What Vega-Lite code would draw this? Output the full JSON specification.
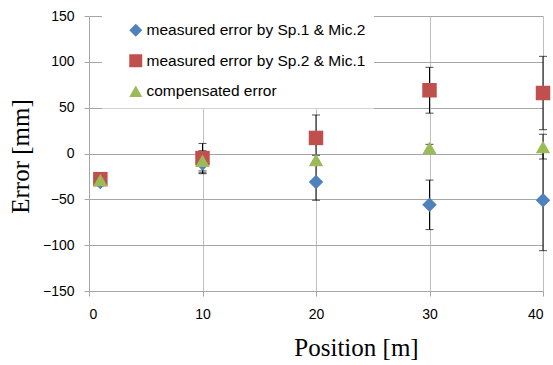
{
  "$schema": "https://vega.github.io/schema/vega-lite/v6.json",
  "width": 454,
  "height": 275,
  "autosize": "none",
  "padding": {"left": 89, "top": 16, "right": 10, "bottom": 74},
  "background": "white",
  "data": {
    "values": [
      {"pos": 1, "series": "measured error by Sp.1 & Mic.2", "value": -31, "lo": -34, "hi": -28},
      {"pos": 10, "series": "measured error by Sp.1 & Mic.2", "value": -11, "lo": -22, "hi": 0},
      {"pos": 20, "series": "measured error by Sp.1 & Mic.2", "value": -31, "lo": -51, "hi": -11},
      {"pos": 30, "series": "measured error by Sp.1 & Mic.2", "value": -56, "lo": -83, "hi": -29},
      {"pos": 40, "series": "measured error by Sp.1 & Mic.2", "value": -51, "lo": -106, "hi": 4},
      {"pos": 1, "series": "measured error by Sp.2 & Mic.1", "value": -28, "lo": -31, "hi": -25},
      {"pos": 10, "series": "measured error by Sp.2 & Mic.1", "value": -5, "lo": -21, "hi": 11},
      {"pos": 20, "series": "measured error by Sp.2 & Mic.1", "value": 17, "lo": -8, "hi": 42},
      {"pos": 30, "series": "measured error by Sp.2 & Mic.1", "value": 69, "lo": 44, "hi": 94},
      {"pos": 40, "series": "measured error by Sp.2 & Mic.1", "value": 66, "lo": 26, "hi": 106},
      {"pos": 1, "series": "compensated error", "value": -29, "lo": -32, "hi": -26},
      {"pos": 10, "series": "compensated error", "value": -8, "lo": -19, "hi": 3},
      {"pos": 20, "series": "compensated error", "value": -7, "lo": -12, "hi": -2},
      {"pos": 30, "series": "compensated error", "value": 6, "lo": 2, "hi": 10},
      {"pos": 40, "series": "compensated error", "value": 7, "lo": -6, "hi": 21}
    ]
  },
  "encoding": {
    "x": {
      "field": "pos", "type": "quantitative",
      "scale": {"domain": [0, 40], "nice": false, "zero": false},
      "axis": {"values": [0, 10, 20, 30, 40], "title": "Position [m]"}
    }
  },
  "layer": [
    {
      "mark": {"type": "rule", "color": "black", "strokeWidth": 1},
      "encoding": {
        "y": {"field": "lo", "type": "quantitative", "scale": {"domain": [-150, 150], "nice": false}, "axis": {"values": [-150, -100, -50, 0, 50, 100, 150], "title": "Error [mm]"}},
        "y2": {"field": "hi"}
      }
    },
    {
      "mark": {"type": "tick", "orient": "horizontal", "color": "black", "size": 8, "thickness": 1},
      "encoding": {
        "y": {"field": "lo", "type": "quantitative", "scale": {"domain": [-150, 150], "nice": false}, "axis": {"values": [-150, -100, -50, 0, 50, 100, 150], "title": "Error [mm]"}}
      }
    },
    {
      "mark": {"type": "tick", "orient": "horizontal", "color": "black", "size": 8, "thickness": 1},
      "encoding": {
        "y": {"field": "hi", "type": "quantitative", "scale": {"domain": [-150, 150], "nice": false}, "axis": {"values": [-150, -100, -50, 0, 50, 100, 150], "title": "Error [mm]"}}
      }
    },
    {
      "mark": {"type": "point", "filled": true, "opacity": 1, "size": 210},
      "encoding": {
        "y": {"field": "value", "type": "quantitative", "scale": {"domain": [-150, 150], "nice": false}, "axis": {"values": [-150, -100, -50, 0, 50, 100, 150], "title": "Error [mm]"}},
        "color": {
          "field": "series", "type": "nominal",
          "scale": {"domain": ["measured error by Sp.1 & Mic.2", "measured error by Sp.2 & Mic.1", "compensated error"], "range": ["#4f81bd", "#c0504d", "#9bbb59"]},
          "legend": {"title": null}
        },
        "shape": {
          "field": "series", "type": "nominal",
          "scale": {"domain": ["measured error by Sp.1 & Mic.2", "measured error by Sp.2 & Mic.1", "compensated error"], "range": ["diamond", "square", "triangle-up"]},
          "legend": {"title": null}
        }
      }
    }
  ],
  "config": {
    "view": {"stroke": null},
    "axis": {
      "labelFont": "Liberation Sans",
      "labelFontSize": 14,
      "labelColor": "#000000",
      "titleFont": "Liberation Serif",
      "titleFontSize": 25,
      "titleFontWeight": "normal",
      "titleColor": "#000000",
      "domainColor": "#a6a6a6",
      "tickColor": "#a6a6a6",
      "tickSize": 5,
      "grid": true,
      "gridOpacity": 1
    },
    "axisX": {
      "gridColor": "#bfbfbf",
      "labelPadding": 11,
      "titleX": 267,
      "titleY": 64,
      "titleAlign": "center",
      "titleBaseline": "alphabetic",
      "titleAnchor": null
    },
    "axisY": {
      "gridColor": "#a6a6a6",
      "labelPadding": 10,
      "titleX": -61,
      "titleY": 140,
      "titleAlign": "center",
      "titleBaseline": "alphabetic",
      "titleAngle": 270,
      "titleAnchor": null
    },
    "legend": {
      "orient": "none",
      "legendX": 13,
      "legendY": -1.5,
      "fillColor": "white",
      "strokeColor": null,
      "padding": 8,
      "symbolOffset": 18,
      "symbolSize": 169,
      "symbolStrokeWidth": 0,
      "labelFont": "Liberation Sans",
      "labelFontSize": 15.5,
      "labelColor": "#000000",
      "labelOffset": 3,
      "labelLimit": 400,
      "rowPadding": 13.5
    }
  }
}
